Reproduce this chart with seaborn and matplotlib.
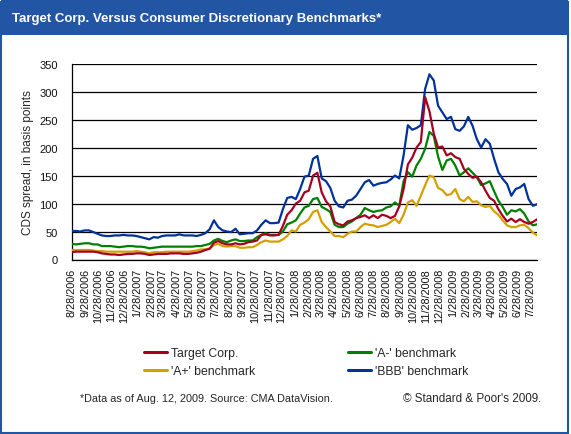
"""Target Corp. CDS spread vs consumer discretionary benchmarks"""
import numpy as np
import pandas as pd
import matplotlib
matplotlib.use("Agg")
import matplotlib.pyplot as plt
import seaborn as sns
from matplotlib.patches import Rectangle
from matplotlib.lines import Line2D


# sampled every 10 days, 8/28/2006 .. 8/12/2009
dates = pd.date_range("2006-08-28", periods=109, freq="10D")

target_corp = [
    13, 14, 14, 14, 14, 14, 13, 11, 10, 9, 9, 8, 9, 10, 10, 11, 11, 10, 8, 9,
    10, 10, 10, 11, 11, 11, 10, 10, 11, 12, 14, 17, 19, 30, 33, 29, 27, 27, 29, 27,
    28, 31, 32, 34, 44, 45, 43, 43, 44, 60, 80, 88, 100, 105, 120, 123, 150, 155, 120, 104,
    95, 67, 63, 61, 68, 70, 74, 76, 79, 74, 79, 74, 80, 78, 74, 78, 95, 126, 170, 182,
    200, 210, 290, 265, 225, 200, 202, 186, 190, 183, 180, 162, 153, 146, 148, 138, 123, 110, 105, 90,
    78, 68, 73, 67, 72, 67, 64, 67, 72,
]

a_minus = [
    28, 27, 28, 29, 29, 27, 27, 24, 24, 24, 23, 22, 23, 24, 24, 23, 23, 22, 20, 21,
    22, 23, 23, 23, 23, 23, 23, 23, 23, 24, 24, 26, 28, 34, 37, 33, 31, 34, 36, 33,
    33, 34, 34, 40, 44, 47, 44, 44, 44, 50, 63, 66, 70, 82, 93, 96, 108, 110, 94, 90,
    85, 62, 58, 58, 64, 68, 74, 80, 92, 88, 85, 87, 88, 93, 95, 102, 96, 140, 156, 148,
    168, 180, 198, 228, 221, 184, 160, 177, 180, 168, 150, 156, 163, 155, 147, 133, 136, 140, 122, 105,
    94, 80, 88, 86, 90, 82, 68, 61, 63,
]

a_plus = [
    17, 17, 17, 17, 17, 16, 15, 15, 14, 14, 14, 14, 14, 14, 14, 15, 14, 13, 11, 13,
    13, 13, 14, 14, 14, 14, 14, 14, 15, 16, 18, 18, 20, 26, 28, 24, 23, 24, 24, 21,
    21, 22, 22, 26, 31, 34, 32, 32, 32, 36, 42, 52, 50, 62, 66, 72, 85, 88, 67, 58,
    50, 42, 42, 40, 46, 50, 50, 58, 64, 62, 61, 58, 60, 62, 67, 73, 65, 80, 102, 106,
    96, 114, 133, 150, 147, 128, 124, 115, 117, 126, 108, 104, 112, 103, 104, 97, 94, 96, 86, 80,
    70, 61, 58, 58, 61, 62, 56, 48, 43,
]

bbb = [
    51, 51, 50, 52, 52, 49, 46, 43, 42, 42, 43, 43, 44, 43, 43, 42, 40, 38, 36, 40,
    39, 42, 43, 43, 43, 45, 43, 43, 43, 42, 44, 47, 54, 70, 58, 52, 50, 49, 55, 45,
    46, 47, 47, 52, 62, 70, 65, 65, 66, 90, 110, 112, 108, 126, 148, 150, 180, 185, 145, 140,
    128, 105, 95, 93, 105, 107, 114, 126, 138, 142, 132, 135, 137, 138, 143, 150, 145, 186, 240, 232,
    235, 240, 305, 331, 320, 275, 263, 251, 255, 233, 230, 238, 255, 239, 215, 200, 215, 207, 180, 156,
    144, 135, 114, 126, 129, 135, 108, 96, 99,
]

series_names = ["Target Corp.", "'A-' benchmark", "'A+' benchmark", "'BBB' benchmark"]
series_colors = ["#A50021", "#008000", "#D4A000", "#003399"]

y_ticks = [0, 50, 100, 150, 200, 250, 300, 350]
x_tick_dates = [pd.Timestamp(2006 + (7 + k) // 12, (7 + k) % 12 + 1, 28) for k in range(36)]
x_tick_labels = [f"{d.month}/28/{d.year}" for d in x_tick_dates]

title = "Target Corp. Versus Consumer Discretionary Benchmarks*"
y_label = "CDS spread, in basis points"
footnote = "*Data as of Aug. 12, 2009. Source: CMA DataVision."
copyright_note = "\u00a9 Standard & Poor's 2009."

# long-form table for seaborn
values = {
    "Target Corp.": target_corp,
    "'A-' benchmark": a_minus,
    "'A+' benchmark": a_plus,
    "'BBB' benchmark": bbb,
}
frames = []
for name in series_names:
    frames.append(pd.DataFrame({"date": dates, "spread": values[name], "series": name}))
data = pd.concat(frames, ignore_index=True)

sns.set_style("white")
plt.rcParams["font.family"] = ["Liberation Sans", "DejaVu Sans"]

W, H = 571, 435
fig = plt.figure(figsize=(W / 100, H / 100), dpi=100)
frame_blue = "#2355A5"

# outer frame and title band
fig.patches.append(Rectangle((1 / W, 1 / H), (W - 4) / W, (H - 4) / H, transform=fig.transFigure,
                             fill=False, edgecolor=frame_blue, linewidth=1.5))
fig.patches.append(Rectangle((1 / W, 1 - 36 / H), (W - 4) / W, 35 / H, transform=fig.transFigure,
                             facecolor=frame_blue, edgecolor="none"))
fig.text(12 / W, 1 - 19 / H, title, color="white", fontsize=9.5, fontweight="bold",
         va="center", ha="left")

ax = fig.add_axes([71.7 / W, 1 - 260.5 / H, (537.2 - 71.7) / W, (260.5 - 64.7) / H])

draw_order = ["'BBB' benchmark", "'A+' benchmark", "'A-' benchmark", "Target Corp."]
palette = dict(zip(series_names, series_colors))
sns.lineplot(data=data, x="date", y="spread", hue="series", hue_order=draw_order,
             palette=palette, linewidth=1.6, ax=ax, legend=False, zorder=3)

ax.set_ylim(0, 350)
ax.set_xlim(dates[0], dates[-1])
ax.set_yticks(y_ticks)
ax.set_yticklabels([str(v) for v in y_ticks], fontsize=8)
ax.set_xticks(x_tick_dates)
ax.set_xticklabels(x_tick_labels, rotation=90, fontsize=7.8)
ax.tick_params(axis="both", direction="out", length=4, width=0.8, color="black", pad=2,
               labelcolor="#111111")
ax.tick_params(axis="y", pad=6)
ax.yaxis.grid(True, color="black", linewidth=0.9)
ax.set_axisbelow(True)
for side in ["top", "right"]:
    ax.spines[side].set_visible(False)
for side in ["left", "bottom"]:
    ax.spines[side].set_color("black")
    ax.spines[side].set_linewidth(0.9)
ax.set_xlabel("")
ax.set_ylabel(y_label, fontsize=8.5, labelpad=4)

# legend: two columns
handles = [Line2D([], [], color=palette[n], linewidth=2.2) for n in series_names]
legend_order = [0, 2, 1, 3]
fig.legend([handles[i] for i in legend_order], [series_names[i] for i in legend_order],
           ncol=2, loc="upper left", bbox_to_anchor=(139 / W, 1 - 343 / H), frameon=False,
           fontsize=8.8, handlelength=1.9, handletextpad=0.3, columnspacing=7.6,
           labelspacing=0.5, borderaxespad=0)

fig.text(80 / W, 1 - 399 / H, footnote, fontsize=7.8, va="center", ha="left")
fig.text(541 / W, 1 - 399 / H, copyright_note, fontsize=8.4, va="center", ha="right")

fig.savefig("out.png", dpi=100)
